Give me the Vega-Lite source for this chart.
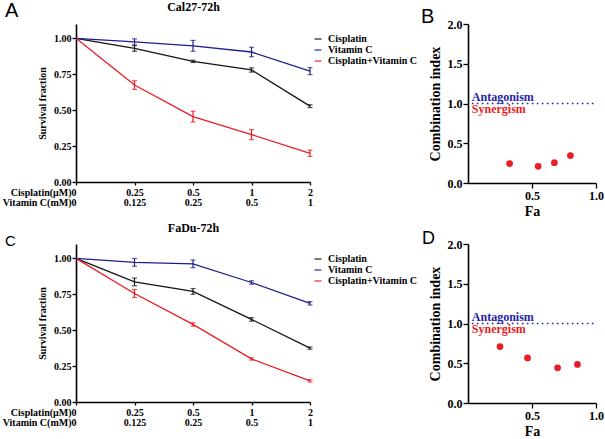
{
  "$schema": "https://vega.github.io/schema/vega-lite/v6.json",
  "padding": {"left": 2, "top": 0, "right": 2, "bottom": 2},
  "background": "white",
  "config": {
    "view": {"stroke": null},
    "font": "Liberation Serif",
    "axis": {"grid": false, "domainColor": "#000", "domainWidth": 1.6, "tickColor": "#000", "tickWidth": 1.3, "tickSize": 4, "labelColor": "#000", "titleColor": "#000", "labelFont": "Liberation Serif", "titleFont": "Liberation Serif", "labelFontWeight": "bold", "titleFontWeight": "bold", "labelFlush": false, "labelOverlap": false, "labelBound": false},
    "title": {"font": "Liberation Sans", "fontSize": 20, "fontWeight": "normal", "color": "#000", "anchor": "start", "frame": "group"},
    "legend": {"orient": "none", "title": null, "symbolType": "stroke", "symbolSize": 49, "symbolStrokeWidth": 1.6, "labelFontSize": 10, "labelFont": "Liberation Serif", "labelFontWeight": "bold", "labelColor": "#000", "rowPadding": 1, "labelOffset": 5, "padding": 0}
  },
  "datasets": {
    "cal27": [
      {"dose": "0/0", "group": "Cisplatin", "sf": 1, "err": 0},
      {"dose": "0.25/0.125", "group": "Cisplatin", "sf": 0.93, "err": 0.02},
      {"dose": "0.5/0.25", "group": "Cisplatin", "sf": 0.84, "err": 0.008},
      {"dose": "1/0.5", "group": "Cisplatin", "sf": 0.78, "err": 0.015},
      {"dose": "2/1", "group": "Cisplatin", "sf": 0.528, "err": 0.01},
      {"dose": "0/0", "group": "Vitamin C", "sf": 1, "err": 0},
      {"dose": "0.25/0.125", "group": "Vitamin C", "sf": 0.975, "err": 0.022},
      {"dose": "0.5/0.25", "group": "Vitamin C", "sf": 0.948, "err": 0.038},
      {"dose": "1/0.5", "group": "Vitamin C", "sf": 0.905, "err": 0.033},
      {"dose": "2/1", "group": "Vitamin C", "sf": 0.772, "err": 0.025},
      {"dose": "0/0", "group": "Cisplatin+Vitamin C", "sf": 1, "err": 0},
      {"dose": "0.25/0.125", "group": "Cisplatin+Vitamin C", "sf": 0.675, "err": 0.03},
      {"dose": "0.5/0.25", "group": "Cisplatin+Vitamin C", "sf": 0.455, "err": 0.038},
      {"dose": "1/0.5", "group": "Cisplatin+Vitamin C", "sf": 0.33, "err": 0.035},
      {"dose": "2/1", "group": "Cisplatin+Vitamin C", "sf": 0.2, "err": 0.022}
    ],
    "fadu": [
      {"dose": "0/0", "group": "Cisplatin", "sf": 1, "err": 0},
      {"dose": "0.25/0.125", "group": "Cisplatin", "sf": 0.836, "err": 0.027},
      {"dose": "0.5/0.25", "group": "Cisplatin", "sf": 0.77, "err": 0.02},
      {"dose": "1/0.5", "group": "Cisplatin", "sf": 0.575, "err": 0.012},
      {"dose": "2/1", "group": "Cisplatin", "sf": 0.375, "err": 0.008},
      {"dose": "0/0", "group": "Vitamin C", "sf": 1, "err": 0},
      {"dose": "0.25/0.125", "group": "Vitamin C", "sf": 0.972, "err": 0.027},
      {"dose": "0.5/0.25", "group": "Vitamin C", "sf": 0.962, "err": 0.027},
      {"dose": "1/0.5", "group": "Vitamin C", "sf": 0.832, "err": 0.012},
      {"dose": "2/1", "group": "Vitamin C", "sf": 0.687, "err": 0.012},
      {"dose": "0/0", "group": "Cisplatin+Vitamin C", "sf": 1, "err": 0},
      {"dose": "0.25/0.125", "group": "Cisplatin+Vitamin C", "sf": 0.755, "err": 0.028},
      {"dose": "0.5/0.25", "group": "Cisplatin+Vitamin C", "sf": 0.54, "err": 0.012},
      {"dose": "1/0.5", "group": "Cisplatin+Vitamin C", "sf": 0.3, "err": 0.008},
      {"dose": "2/1", "group": "Cisplatin+Vitamin C", "sf": 0.147, "err": 0.008}
    ],
    "ciCal27": [
      {"fa": 0.325, "ci": 0.245},
      {"fa": 0.548, "ci": 0.21},
      {"fa": 0.675, "ci": 0.255},
      {"fa": 0.8, "ci": 0.345}
    ],
    "ciFadu": [
      {"fa": 0.25, "ci": 0.71},
      {"fa": 0.465, "ci": 0.567},
      {"fa": 0.7, "ci": 0.443},
      {"fa": 0.855, "ci": 0.485}
    ]
  },
  "concat": [
    {
      "width": 234, "height": 158,
      "title": {"text": "A", "dx": -71, "dy": 24.7, "fontSize": 20},
      "data": {"name": "cal27"},
      "encoding": {
        "y": {"field": "sf", "type": "quantitative", "scale": {"domain": [0, 1.1]}, "axis": {"values": [0, 0.25, 0.5, 0.75, 1], "format": ".2f", "title": "Survival fraction", "labelFontSize": 10, "titleFontSize": 10, "titlePadding": 6, "labelPadding": 1}},
        "color": {"field": "group", "type": "nominal", "scale": {"domain": ["Cisplatin", "Vitamin C", "Cisplatin+Vitamin C"], "range": ["#141414", "#1f1f8c", "#ea1c24"]}, "legend": {"legendX": 237, "legendY": 10}}
      },
      "layer": [
        {"mark": {"type": "line", "strokeWidth": 1.3},
         "encoding": {"x": {"field": "dose", "type": "ordinal", "sort": ["0/0", "0.25/0.125", "0.5/0.25", "1/0.5", "2/1"], "scale": {"type": "point", "padding": 0},
           "axis": {"title": null, "labelAngle": 0, "labelExpr": "datum.value == '0/0' ? ['Cisplatin(μM)0', 'Vitamin C(mM)0'] : split(datum.value, '/')", "labelAlign": {"condition": {"test": "datum.value == '0/0'", "value": "right"}, "value": "center"}, "labelFontSize": 10, "labelLineHeight": 10, "labelPadding": 2, "tickSize": 3}}}},
        {"transform": [{"filter": "datum.err > 0"}],
         "mark": {"type": "errorbar", "ticks": {"size": 5}, "thickness": 1.2},
         "encoding": {"x": {"field": "dose", "type": "ordinal", "sort": ["0/0", "0.25/0.125", "0.5/0.25", "1/0.5", "2/1"], "scale": {"type": "point", "padding": 0}, "axis": null}, "yError": {"field": "err"}}},
        {"mark": {"type": "point", "opacity": 0},
         "encoding": {"x": {"field": "dose", "type": "ordinal", "sort": ["0/0", "0.25/0.125", "0.5/0.25", "1/0.5", "2/1"], "scale": {"type": "point", "padding": 0},
           "axis": {"orient": "top", "title": "Cal27-72h", "labels": false, "ticks": false, "domain": false, "titleFontSize": 12, "titlePadding": 11}}}}
      ],
      "resolve": {"axis": {"x": "independent"}}
    },
    {
      "width": 128, "height": 159,
      "title": {"text": "B", "dx": -47, "dy": 13.3, "fontSize": 20},
      "layer": [
        {"data": {"name": "ciCal27"}, "mark": {"type": "circle", "size": 45, "color": "#ea1c24", "opacity": 1},
         "encoding": {
           "x": {"field": "fa", "type": "quantitative", "scale": {"domain": [0, 1]}, "axis": {"values": [0.5, 1], "format": ".1f", "title": "Fa", "labelFontSize": 12, "titleFontSize": 14, "tickSize": 5, "labelPadding": 2, "titlePadding": 3, "labelOverlap": false}},
           "y": {"field": "ci", "type": "quantitative", "scale": {"domain": [0, 2]}, "axis": {"values": [0, 0.5, 1, 1.5, 2], "format": ".1f", "title": "Combination index", "labelFontSize": 12, "titleFontSize": 14, "tickSize": 5, "labelPadding": 1, "titlePadding": 5, "labelOverlap": false}}}},
        {"data": {"values": [{}]}, "mark": {"type": "rule", "color": "#2323a8", "strokeDash": [1.6, 3.4], "strokeWidth": 1.6},
         "encoding": {"x": {"datum": 0.03, "axis": {"values": [0.5, 1], "format": ".1f", "title": "Fa", "labelFontSize": 12, "titleFontSize": 14, "tickSize": 5, "labelPadding": 2, "titlePadding": 3, "labelOverlap": false}}, "x2": {"datum": 0.98}, "y": {"datum": 1, "axis": {"values": [0, 0.5, 1, 1.5, 2], "format": ".1f", "title": "Combination index", "labelFontSize": 12, "titleFontSize": 14, "tickSize": 5, "labelPadding": 1, "titlePadding": 5, "labelOverlap": false}}}},
        {"data": {"values": [{}]}, "mark": {"type": "text", "text": "Antagonism", "align": "left", "baseline": "alphabetic", "dy": -3, "color": "#2323a8", "font": "Liberation Serif", "fontWeight": "bold", "fontSize": 12},
         "encoding": {"x": {"datum": 0.03, "axis": {"values": [0.5, 1], "format": ".1f", "title": "Fa", "labelFontSize": 12, "titleFontSize": 14, "tickSize": 5, "labelPadding": 2, "titlePadding": 3, "labelOverlap": false}}, "y": {"datum": 1, "axis": {"values": [0, 0.5, 1, 1.5, 2], "format": ".1f", "title": "Combination index", "labelFontSize": 12, "titleFontSize": 14, "tickSize": 5, "labelPadding": 1, "titlePadding": 5, "labelOverlap": false}}}},
        {"data": {"values": [{}]}, "mark": {"type": "text", "text": "Synergism", "align": "left", "baseline": "alphabetic", "dy": 9, "color": "#ea1c24", "font": "Liberation Serif", "fontWeight": "bold", "fontSize": 12},
         "encoding": {"x": {"datum": 0.03, "axis": {"values": [0.5, 1], "format": ".1f", "title": "Fa", "labelFontSize": 12, "titleFontSize": 14, "tickSize": 5, "labelPadding": 2, "titlePadding": 3, "labelOverlap": false}}, "y": {"datum": 1, "axis": {"values": [0, 0.5, 1, 1.5, 2], "format": ".1f", "title": "Combination index", "labelFontSize": 12, "titleFontSize": 14, "tickSize": 5, "labelPadding": 1, "titlePadding": 5, "labelOverlap": false}}}}
      ]
    },
    {
      "width": 234, "height": 158,
      "title": {"text": "C", "dx": -71, "dy": 31.6, "fontSize": 15},
      "data": {"name": "fadu"},
      "encoding": {
        "y": {"field": "sf", "type": "quantitative", "scale": {"domain": [0, 1.1]}, "axis": {"values": [0, 0.25, 0.5, 0.75, 1], "format": ".2f", "title": "Survival fraction", "labelFontSize": 10, "titleFontSize": 10, "titlePadding": 6, "labelPadding": 1}},
        "color": {"field": "group", "type": "nominal", "scale": {"domain": ["Cisplatin", "Vitamin C", "Cisplatin+Vitamin C"], "range": ["#141414", "#1f1f8c", "#ea1c24"]}, "legend": {"legendX": 237, "legendY": 10}}
      },
      "layer": [
        {"mark": {"type": "line", "strokeWidth": 1.3},
         "encoding": {"x": {"field": "dose", "type": "ordinal", "sort": ["0/0", "0.25/0.125", "0.5/0.25", "1/0.5", "2/1"], "scale": {"type": "point", "padding": 0},
           "axis": {"title": null, "labelAngle": 0, "labelExpr": "datum.value == '0/0' ? ['Cisplatin(μM)0', 'Vitamin C(mM)0'] : split(datum.value, '/')", "labelAlign": {"condition": {"test": "datum.value == '0/0'", "value": "right"}, "value": "center"}, "labelFontSize": 10, "labelLineHeight": 10, "labelPadding": 2, "tickSize": 3}}}},
        {"transform": [{"filter": "datum.err > 0"}],
         "mark": {"type": "errorbar", "ticks": {"size": 5}, "thickness": 1.2},
         "encoding": {"x": {"field": "dose", "type": "ordinal", "sort": ["0/0", "0.25/0.125", "0.5/0.25", "1/0.5", "2/1"], "scale": {"type": "point", "padding": 0}, "axis": null}, "yError": {"field": "err"}}},
        {"mark": {"type": "point", "opacity": 0},
         "encoding": {"x": {"field": "dose", "type": "ordinal", "sort": ["0/0", "0.25/0.125", "0.5/0.25", "1/0.5", "2/1"], "scale": {"type": "point", "padding": 0},
           "axis": {"orient": "top", "title": "FaDu-72h", "labels": false, "ticks": false, "domain": false, "titleFontSize": 12, "titlePadding": 9.5}}}}
      ],
      "resolve": {"axis": {"x": "independent"}}
    },
    {
      "width": 128, "height": 159,
      "title": {"text": "D", "dx": -46, "dy": 13.8, "fontSize": 18},
      "layer": [
        {"data": {"name": "ciFadu"}, "mark": {"type": "circle", "size": 45, "color": "#ea1c24", "opacity": 1},
         "encoding": {
           "x": {"field": "fa", "type": "quantitative", "scale": {"domain": [0, 1]}, "axis": {"values": [0.5, 1], "format": ".1f", "title": "Fa", "labelFontSize": 12, "titleFontSize": 14, "tickSize": 5, "labelPadding": 2, "titlePadding": 3, "labelOverlap": false}},
           "y": {"field": "ci", "type": "quantitative", "scale": {"domain": [0, 2]}, "axis": {"values": [0, 0.5, 1, 1.5, 2], "format": ".1f", "title": "Combination index", "labelFontSize": 12, "titleFontSize": 14, "tickSize": 5, "labelPadding": 1, "titlePadding": 5, "labelOverlap": false}}}},
        {"data": {"values": [{}]}, "mark": {"type": "rule", "color": "#2323a8", "strokeDash": [1.6, 3.4], "strokeWidth": 1.6},
         "encoding": {"x": {"datum": 0.03, "axis": {"values": [0.5, 1], "format": ".1f", "title": "Fa", "labelFontSize": 12, "titleFontSize": 14, "tickSize": 5, "labelPadding": 2, "titlePadding": 3, "labelOverlap": false}}, "x2": {"datum": 0.98}, "y": {"datum": 1, "axis": {"values": [0, 0.5, 1, 1.5, 2], "format": ".1f", "title": "Combination index", "labelFontSize": 12, "titleFontSize": 14, "tickSize": 5, "labelPadding": 1, "titlePadding": 5, "labelOverlap": false}}}},
        {"data": {"values": [{}]}, "mark": {"type": "text", "text": "Antagonism", "align": "left", "baseline": "alphabetic", "dy": -3, "color": "#2323a8", "font": "Liberation Serif", "fontWeight": "bold", "fontSize": 12},
         "encoding": {"x": {"datum": 0.03, "axis": {"values": [0.5, 1], "format": ".1f", "title": "Fa", "labelFontSize": 12, "titleFontSize": 14, "tickSize": 5, "labelPadding": 2, "titlePadding": 3, "labelOverlap": false}}, "y": {"datum": 1, "axis": {"values": [0, 0.5, 1, 1.5, 2], "format": ".1f", "title": "Combination index", "labelFontSize": 12, "titleFontSize": 14, "tickSize": 5, "labelPadding": 1, "titlePadding": 5, "labelOverlap": false}}}},
        {"data": {"values": [{}]}, "mark": {"type": "text", "text": "Synergism", "align": "left", "baseline": "alphabetic", "dy": 9, "color": "#ea1c24", "font": "Liberation Serif", "fontWeight": "bold", "fontSize": 12},
         "encoding": {"x": {"datum": 0.03, "axis": {"values": [0.5, 1], "format": ".1f", "title": "Fa", "labelFontSize": 12, "titleFontSize": 14, "tickSize": 5, "labelPadding": 2, "titlePadding": 3, "labelOverlap": false}}, "y": {"datum": 1, "axis": {"values": [0, 0.5, 1, 1.5, 2], "format": ".1f", "title": "Combination index", "labelFontSize": 12, "titleFontSize": 14, "tickSize": 5, "labelPadding": 1, "titlePadding": 5, "labelOverlap": false}}}}
      ]
    }
  ],
  "columns": 2,
  "bounds": "flush",
  "spacing": {"row": 61, "column": 158},
  "resolve": {"scale": {"x": "independent", "y": "independent", "color": "independent"}, "axis": {"x": "independent", "y": "independent"}, "legend": {"color": "independent"}}
}
